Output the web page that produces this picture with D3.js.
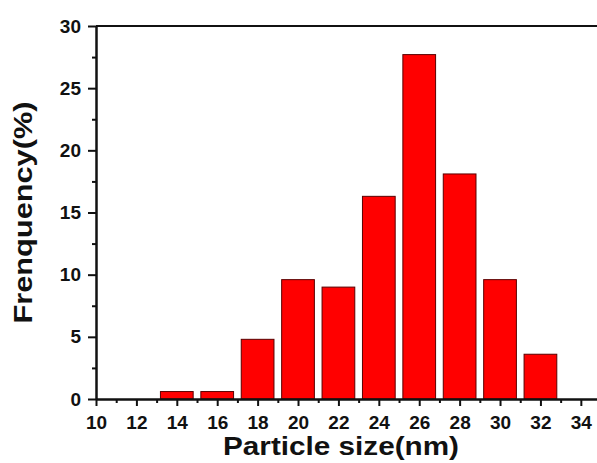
<!DOCTYPE html>
<html>
<head>
<meta charset="utf-8">
<script src="https://cdn.jsdelivr.net/npm/d3@7"></script>
<style>
  body { margin: 0; background: #fff; }
  svg { display: block; font-family: "Liberation Sans", Arial, sans-serif; font-weight: bold; }
</style>
</head>
<body>
<div id="chart"></div>
<script>
// particle size bins (nm) and frequency (%)
var sizes = [14, 16, 18, 20, 22, 24, 26, 28, 30, 32];
var freqs = [0.6, 0.6, 4.8, 9.6, 9.0, 16.3, 27.7, 18.1, 9.6, 3.6];
var xTicks = [10, 12, 14, 16, 18, 20, 22, 24, 26, 28, 30, 32, 34];
var xMinor = [11, 13, 15, 17, 19, 21, 23, 25, 27, 29, 31, 33];
var yTicks = [0, 5, 10, 15, 20, 25, 30];
var yMinor = [2.5, 7.5, 12.5, 17.5, 22.5, 27.5];

const width = 597;
const height = 463;
const marginLeft = 96;
const marginTop = 26;
const plotBottom = 399;
const barWidth = 1.62; // in nm

const x = d3.scaleLinear()
    .domain([10, 34.8])
    .range([marginLeft, width]);

const y = d3.scaleLinear()
    .domain([0, 30])
    .range([plotBottom, marginTop]);

const svg = d3.select("#chart").append("svg")
    .attr("width", width)
    .attr("height", height)
    .attr("viewBox", [0, 0, width, height]);

// bars
svg.append("g")
    .selectAll("rect")
    .data(sizes)
    .join("rect")
    .attr("x", (d) => x(d - barWidth / 2))
    .attr("y", (d, i) => y(freqs[i]))
    .attr("width", (d) => x(d + barWidth / 2) - x(d - barWidth / 2))
    .attr("height", (d, i) => y(0) - y(freqs[i]))
    .attr("fill", "#ff0000")
    .attr("stroke", "#5a0000")
    .attr("stroke-width", 1);

// top frame line
svg.append("line")
    .attr("x1", marginLeft).attr("x2", width)
    .attr("y1", marginTop).attr("y2", marginTop)
    .attr("stroke", "#111")
    .attr("stroke-width", 2);

// minor ticks
svg.append("g")
    .attr("transform", `translate(0,${plotBottom})`)
    .call(d3.axisBottom(x).tickValues(xMinor).tickSize(4).tickFormat(() => ""))
    .call(g => g.select(".domain").remove())
    .selectAll("line").attr("stroke", "#111").attr("stroke-width", 2);

svg.append("g")
    .attr("transform", `translate(${marginLeft},0)`)
    .call(d3.axisLeft(y).tickValues(yMinor).tickSize(4).tickFormat(() => ""))
    .call(g => g.select(".domain").remove())
    .selectAll("line").attr("stroke", "#111").attr("stroke-width", 2);

// x axis
const gx = svg.append("g")
    .attr("transform", `translate(0,${plotBottom})`)
    .call(d3.axisBottom(x).tickValues(xTicks).tickSize(7).tickPadding(10).tickSizeOuter(0));
gx.select(".domain").attr("stroke", "#111").attr("stroke-width", 2.5);
gx.selectAll(".tick line").attr("stroke", "#111").attr("stroke-width", 2);
gx.selectAll("text")
    .attr("font-size", 19)
    .attr("font-family", "Liberation Sans, Arial, sans-serif")
    .attr("font-weight", "bold")
    .attr("fill", "#111");

// y axis
const gy = svg.append("g")
    .attr("transform", `translate(${marginLeft},0)`)
    .call(d3.axisLeft(y).tickValues(yTicks).tickSize(8).tickPadding(7).tickSizeOuter(0));
gy.select(".domain").attr("stroke", "#111").attr("stroke-width", 2.5);
gy.selectAll(".tick line").attr("stroke", "#111").attr("stroke-width", 2);
gy.selectAll("text")
    .attr("font-size", 19)
    .attr("font-family", "Liberation Sans, Arial, sans-serif")
    .attr("font-weight", "bold")
    .attr("fill", "#111");

// axis titles (the original lettering is a little wider than Liberation Sans)
svg.append("text")
    .attr("x", 341)
    .attr("y", 455)
    .attr("text-anchor", "middle")
    .attr("font-size", 25)
    .attr("textLength", 236)
    .attr("lengthAdjust", "spacingAndGlyphs")
    .attr("fill", "#111")
    .text("Particle size(nm)");

svg.append("text")
    .attr("transform", `translate(32,${(marginTop + plotBottom) / 2}) rotate(-90)`)
    .attr("text-anchor", "middle")
    .attr("font-size", 25)
    .attr("textLength", 222)
    .attr("lengthAdjust", "spacingAndGlyphs")
    .attr("fill", "#111")
    .text("Frenquency(%)");
</script>
</body>
</html>
